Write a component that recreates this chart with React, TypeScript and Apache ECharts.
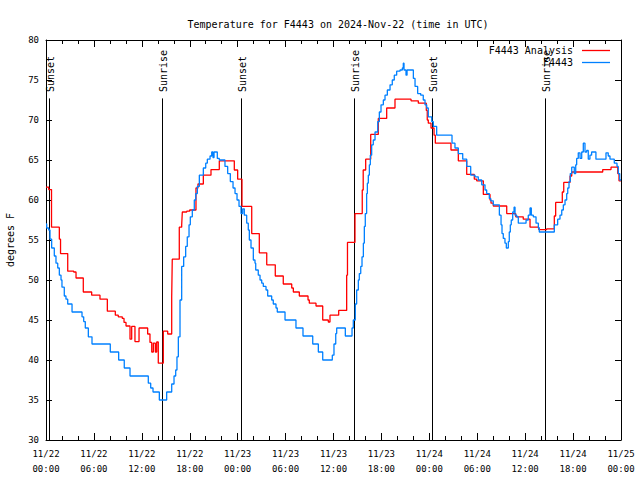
import React, { useEffect, useRef } from 'react';
import * as echarts from 'echarts';

const tickLabels = [
  '11/22\n00:00', '11/22\n06:00', '11/22\n12:00', '11/22\n18:00',
  '11/23\n00:00', '11/23\n06:00', '11/23\n12:00', '11/23\n18:00',
  '11/24\n00:00', '11/24\n06:00', '11/24\n12:00', '11/24\n18:00',
  '11/25\n00:00',
];

const sunHours = [0.41, 14.57, 24.46, 38.61, 48.37, 62.53];
const sunNames = ['Sunset', 'Sunrise', 'Sunset', 'Sunrise', 'Sunset', 'Sunrise'];

const analysisHours = [
  0, 0.34, 0.69, 1.67, 1.82, 2.72, 3.47, 3.76, 4.67, 5.72, 6.76, 7.68, 8.68, 9.05, 9.55, 9.77,
  10.02, 10.52, 10.73, 11.14, 11.65, 12.73, 13.02, 13.24, 13.44, 13.69, 13.86, 14.06, 14.69,
  15.24, 15.74, 15.81, 16.69, 16.99, 17.07, 17.62, 17.99, 18.78, 19.03, 19.7, 20.66, 21.7,
  23.58, 24.0, 24.54, 25.76, 26.71, 27.64, 28.71, 29.71, 30.77, 30.97, 31.72, 32.81, 32.97,
  33.81, 34.65, 35.35, 35.56, 36.65, 37.65, 37.75, 38.69, 39.6, 39.72, 40.03, 40.66, 41.61,
  42.66, 43.7, 45.71, 46.62, 47.62, 47.74, 47.87, 48.21, 48.59, 48.75, 50.71, 51.63, 52.68,
  53.63, 53.93, 54.76, 55.6, 55.72, 56.01, 57.69, 58.82, 59.76, 60.61, 61.7, 62.7, 63.65,
  63.82, 64.65, 64.83, 65.62, 65.83, 69.71, 70.75, 71.59, 71.75, 72,
];
const analysisTemps = [
  61.6, 61.3, 56.6, 55.1, 53.3, 51.1, 51.0, 50.25, 48.5, 48.1, 47.6, 46.1, 45.6, 45.4, 45.2, 44.7,
  44.25, 42.6, 44.2, 42.3, 44.0, 43.25, 42.2, 41.0, 42.1, 41.0, 42.25, 39.6, 43.6,
  43.25, 47.9, 52.6, 56.6, 56.9, 58.5, 58.6, 58.75, 61.5, 62.0, 63.1, 63.8, 64.9,
  63.75, 62.6, 59.2, 55.8, 53.4, 51.9, 50.5, 49.5, 49.0, 48.5, 48.0, 47.5, 47.1,
  46.75, 45.0, 44.75, 45.6, 46.2, 50.6, 54.7, 58.3, 61.25, 63.75, 65.1, 68.2, 70.2,
  71.5, 72.6, 72.4, 72.1, 71.2, 70.0, 69.6, 69.0, 68.1, 67.1, 66.25, 64.9, 63.2,
  62.6, 62.4, 60.7, 60.0, 59.6, 59.25, 58.3, 57.9, 57.6, 56.6, 56.3, 56.4, 58.0,
  59.7, 61.0, 62.2, 63.0, 63.5, 63.8, 64.1, 63.3, 62.4, 62.4,
];

const obsHours = [
  0, 0.09, 0.34, 0.5, 0.71, 1.04, 1.25, 1.47, 1.67, 1.88, 2.0, 2.29, 2.5, 2.72, 3.26, 4.51,
  4.72, 4.92, 5.3, 5.76, 8.05, 9.1, 9.8, 10.52, 12.81, 13.11, 13.4, 14.19, 15.11, 15.74,
  16.03, 16.24, 16.4, 16.57, 16.78, 16.99, 17.24, 17.49, 17.69, 17.91, 18.07, 18.32, 18.57,
  18.75, 18.95, 19.2, 19.7, 20.0, 20.2, 20.54, 20.75, 20.91, 21.04, 21.45, 21.7, 22.41,
  22.75, 23.08, 23.42, 23.67, 23.92, 24.17, 24.42, 24.63, 24.83, 25.13, 25.33, 25.46, 25.67,
  25.96, 26.17, 26.26, 26.58, 26.8, 27.01, 27.21, 27.55, 27.76, 28.26, 28.46, 28.8, 28.96,
  29.93, 31.3, 32.18, 33.4, 34.1, 34.65, 35.85, 36.06, 36.28, 36.4, 37.48, 38.32, 38.48,
  38.73, 38.9, 39.11, 39.23, 39.41, 39.57, 39.74, 39.86, 39.98, 40.15, 40.24, 40.36, 40.49,
  40.61, 40.78, 40.98, 41.2, 41.54, 41.74, 41.95, 42.24, 42.45, 42.74, 43.08, 43.36, 43.61,
  43.91, 44.33, 44.62, 44.74, 44.83, 45.08, 45.21, 46.0, 46.21, 46.54, 46.92, 47.24, 47.46,
  47.67, 47.87, 48.3, 48.5, 48.92, 50.84, 51.21, 51.63, 52.18, 52.68, 53.18, 53.72, 54.13,
  54.56, 54.97, 55.18, 55.51, 55.69, 56.01, 56.77, 56.98, 57.1, 57.26, 57.47, 57.64, 57.89,
  58.01, 58.14, 58.26, 58.44, 58.61, 58.73, 58.94, 59.14, 60.11, 60.39, 60.61, 60.77, 61.02,
  61.36, 61.65, 61.77, 63.65, 64.07, 64.36, 64.58, 64.78, 64.99, 65.2, 65.33, 65.49, 65.65,
  65.83, 66.15, 66.33, 66.45, 66.65, 66.87, 67.08, 67.28, 67.49, 67.7, 67.9, 68.11, 68.32,
  68.86, 70.12, 70.4, 70.62, 71.16, 71.5, 71.66, 71.84, 72,
];
const obsTemps = [
  57.0, 56.5, 56.25, 55.1, 54.0, 53.0, 52.1, 51.5, 50.6, 50.0, 49.1, 48.0, 47.6, 47.0, 46.0, 45.4,
  44.8, 44.0, 42.9, 42.0, 41.0, 40.0, 39.0, 38.0, 37.1, 36.5, 36.0, 35.0, 36.0, 37.0,
  38.0, 38.75, 40.4, 42.9, 47.5, 51.7, 52.9, 54.2, 55.4, 56.9, 57.9, 58.75, 60.0,
  60.8, 61.7, 63.1, 64.0, 64.6, 65.1, 65.5, 66.0, 65.3, 66.0, 65.2, 65.0, 64.2,
  63.3, 62.3, 61.5, 60.8, 60.0, 59.2, 58.3, 58.9, 58.1, 57.1, 56.25, 55.0, 54.0,
  52.5, 52.1, 51.25, 50.6, 50.0, 49.6, 49.2, 48.75, 48.0, 47.5, 47.0, 46.5, 46.0,
  45.0, 44.0, 43.0, 42.0, 41.0, 40.0, 40.6, 42.0, 43.3, 44.0, 43.0, 44.0, 45.0,
  47.0, 48.75, 50.0, 50.8, 51.7, 52.9, 54.6, 56.7, 58.3, 60.8, 62.1, 63.1, 64.4,
  65.6, 66.9, 67.5, 68.5, 69.8, 71.0, 71.9, 72.5, 73.1, 73.75, 74.4, 75.0, 75.6,
  76.1, 76.25, 76.5, 77.1, 76.25, 75.6, 76.25, 75.2, 74.2, 73.3, 73.1, 72.5, 71.9,
  71.5, 70.4, 69.8, 69.2, 68.1, 67.1, 66.5, 65.8, 65.1, 64.2, 63.1, 62.9, 62.5,
  61.9, 61.25, 60.8, 60.2, 59.9, 59.4, 58.1, 56.9, 55.8, 55.2, 54.6, 54.0, 54.8,
  56.0, 56.9, 57.5, 58.5, 59.1, 58.1, 57.9, 57.1, 57.5, 58.1, 59.0, 58.1, 57.9,
  57.1, 56.5, 56.0, 56.9, 57.6, 58.1, 58.75, 59.4, 60.0, 60.8, 61.5, 62.3, 63.3,
  64.1, 63.3, 64.4, 65.2, 65.9, 65.2, 66.0, 67.1, 66.0, 66.2, 65.1, 65.6, 66.0,
  65.1, 65.9, 65.5, 65.1, 64.6, 64.2, 63.3, 62.5, 62.5,
];

const MONO = '"DejaVu Sans Mono", "Liberation Mono", monospace';
const SUN_LINE_TOP = 72.7;
const SUN_LABEL_BASE = 73.5;

export default function App() {
  const ref = useRef<HTMLDivElement>(null);
  useEffect(() => {
    if (!ref.current) return;
    const chart = echarts.init(ref.current, undefined, { renderer: 'svg' });
    const analysis = analysisHours.map((h, i) => [h, analysisTemps[i]]);
    const obs = obsHours.map((h, i) => [h, obsTemps[i]]);
    const sunData = sunHours.map((h) => [h, 30]);

    const xCommon = {
      type: 'value' as const,
      min: 0,
      max: 72,
      interval: 6,
      splitLine: { show: false },
      axisLine: { show: true, onZero: false, lineStyle: { color: '#000', width: 1 } },
      axisTick: { show: true, inside: true, length: 7, lineStyle: { color: '#000' } },
      minorTick: { show: true, splitNumber: 3, length: 4, lineStyle: { color: '#000' } },
      minorSplitLine: { show: false },
    };
    const yCommon = {
      type: 'value' as const,
      min: 30,
      max: 80,
      interval: 5,
      splitLine: { show: false },
      axisLine: { show: true, onZero: false, lineStyle: { color: '#000', width: 1 } },
      axisTick: { show: true, inside: true, length: 6, lineStyle: { color: '#000' } },
    };

    chart.setOption({
      animation: false,
      backgroundColor: '#fff',
      title: {
        text: 'Temperature for F4443 on 2024-Nov-22 (time in UTC)',
        left: 333,
        top: 14,
        textAlign: 'center',
        textStyle: { fontFamily: MONO, fontSize: 10, fontWeight: 'normal', color: '#000' },
      },
      grid: { left: 46, right: 19, top: 40, bottom: 40, containLabel: false, outerBoundsMode: 'none' },
      xAxis: [
        {
          ...xCommon,
          position: 'bottom',
          axisLabel: {
            show: true,
            margin: 6,
            fontFamily: MONO,
            fontSize: 9,
            lineHeight: 15,
            color: '#000',
            formatter: (v: number) => tickLabels[Math.round(v / 6)] ?? '',
          },
        },
        { ...xCommon, position: 'top', axisLabel: { show: false } },
      ],
      yAxis: [
        {
          ...yCommon,
          position: 'left',
          name: 'degrees F',
          nameLocation: 'middle',
          nameRotate: 90,
          nameGap: 31,
          nameTextStyle: { fontFamily: MONO, fontSize: 10, color: '#000' },
          axisLabel: { show: true, margin: 7, fontFamily: MONO, fontSize: 9, color: '#000' },
        },
        { ...yCommon, position: 'right', axisLabel: { show: false } },
      ],
      graphic: [
        {
          type: 'text',
          right: 67,
          top: 45,
          style: { text: 'F4443 Analysis', font: `10px ${MONO}`, fill: '#000', align: 'right' },
        },
        {
          type: 'text',
          right: 67,
          top: 57,
          style: { text: 'F4443', font: `10px ${MONO}`, fill: '#000', align: 'right' },
        },
        { type: 'line', shape: { x1: 582, y1: 50.5, x2: 610, y2: 50.5 }, style: { stroke: '#ff0000', lineWidth: 1.3 } },
        { type: 'line', shape: { x1: 582, y1: 62.5, x2: 610, y2: 62.5 }, style: { stroke: '#0080ff', lineWidth: 1.3 } },
      ],
      series: [
        {
          name: 'Sun',
          type: 'custom',
          xAxisIndex: 0,
          yAxisIndex: 0,
          data: sunData,
          clip: false,
          silent: true,
          z: 1,
          renderItem: (params: any, api: any) => {
            const h = api.value(0);
            const top = api.coord([h, SUN_LINE_TOP]);
            const bot = api.coord([h, 30]);
            const lbl = api.coord([h, SUN_LABEL_BASE]);
            const x = Math.round(top[0]) + 0.5;
            return {
              type: 'group',
              children: [
                {
                  type: 'line',
                  shape: { x1: x, y1: top[1], x2: x, y2: bot[1] },
                  style: { stroke: '#000', lineWidth: 1 },
                },
                {
                  type: 'text',
                  x: x + 1,
                  y: lbl[1],
                  rotation: Math.PI / 2,
                  style: {
                    text: sunNames[params.dataIndex],
                    font: `10px ${MONO}`,
                    fill: '#000',
                    align: 'left',
                    verticalAlign: 'middle',
                  },
                },
              ],
            };
          },
        },
        {
          name: 'F4443 Analysis',
          type: 'line',
          step: 'end',
          data: analysis,
          showSymbol: false,
          symbol: 'none',
          lineStyle: { color: '#ff0000', width: 1.3 },
          z: 2,
        },
        {
          name: 'F4443',
          type: 'line',
          step: 'end',
          data: obs,
          showSymbol: false,
          symbol: 'none',
          lineStyle: { color: '#0080ff', width: 1.3 },
          z: 3,
        },
      ],
    });
    return () => chart.dispose();
  }, []);
  return <div ref={ref} style={{ width: 640, height: 480, position: 'absolute', left: 0, top: 0 }} />;
}
